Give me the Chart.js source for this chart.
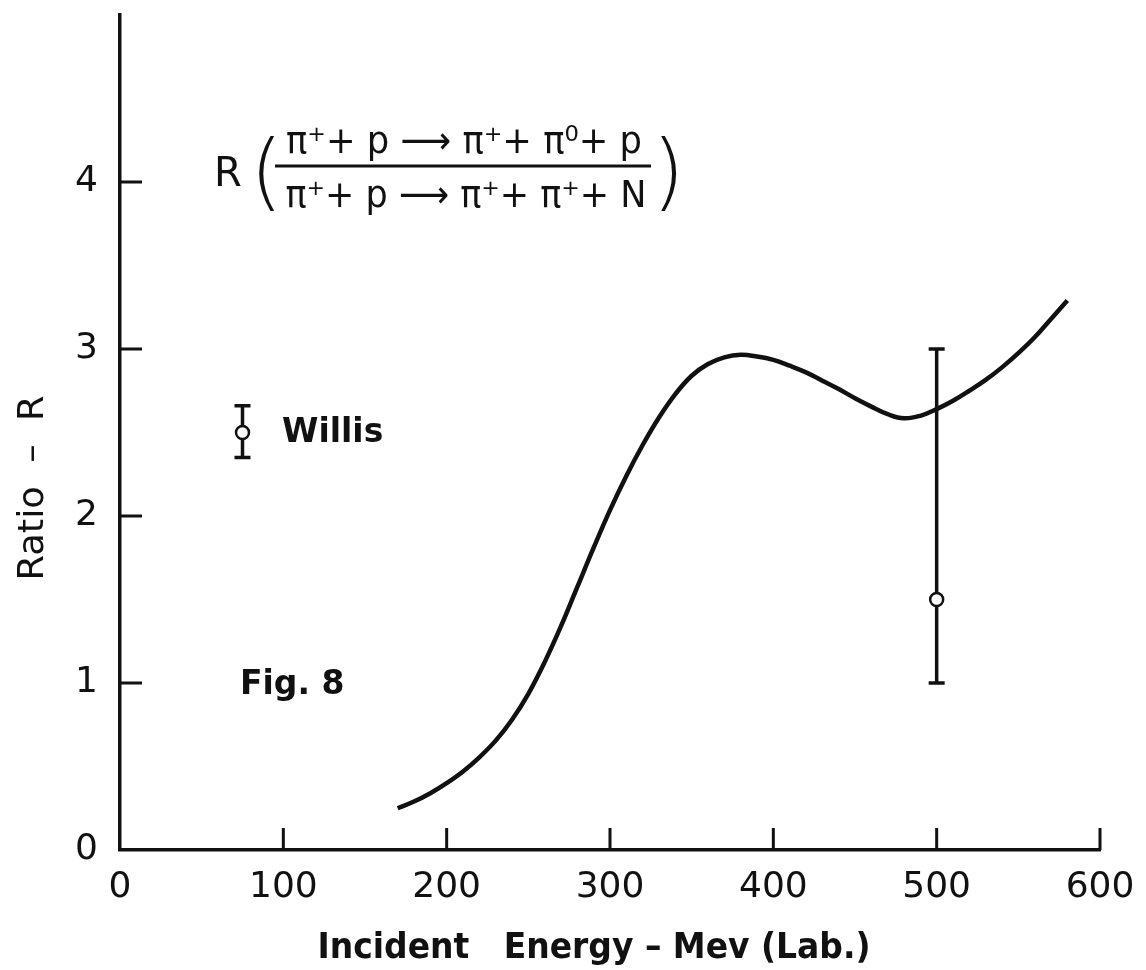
<!DOCTYPE html>
<html>
<head>
<meta charset="utf-8">
<script src="https://cdn.jsdelivr.net/npm/chart.js@4.4.1/dist/chart.umd.min.js"></script>
<style>
  html, body { margin: 0; padding: 0; background: #fff; }
  #wrap { position: relative; width: 1146px; height: 970px; }
</style>
</head>
<body>
<div id="wrap"><canvas id="ratioChart"></canvas></div>
<script>
// curve (Mev, ratio)
const energy = [170, 180, 190, 200, 210, 220, 230, 240, 250, 260, 270, 280, 290, 300, 310, 320, 330, 340, 350, 360, 370, 380, 390, 400, 410, 420, 430, 440, 450, 460, 470, 480, 490, 500, 510, 520, 530, 540, 550, 560, 570, 580];
const ratio = [0.25, 0.29, 0.34, 0.40, 0.47, 0.555, 0.655, 0.78, 0.935, 1.125, 1.34, 1.575, 1.81, 2.035, 2.24, 2.425, 2.59, 2.73, 2.84, 2.91, 2.95, 2.965, 2.955, 2.935, 2.90, 2.86, 2.81, 2.76, 2.705, 2.655, 2.61, 2.585, 2.60, 2.64, 2.69, 2.75, 2.815, 2.89, 2.975, 3.07, 3.18, 3.29];

// measured points with error bars
const pointEnergy = [75, 500];
const pointRatio = [2.5, 1.5];
const errLow = [2.35, 1.0];
const errHigh = [2.66, 3.0];

const xTicks = [0, 100, 200, 300, 400, 500, 600];
const yTicks = [0, 1, 2, 3, 4];

const INK = '#111';
const FONT = 'DejaVu Sans';

function fitText(ctx, text, cx, baseline, width, font) {
  ctx.font = font;
  const w = ctx.measureText(text).width;
  ctx.save();
  ctx.translate(cx, baseline);
  ctx.scale(width / w, 1);
  ctx.textAlign = 'center';
  ctx.textBaseline = 'alphabetic';
  ctx.fillText(text, 0, 0);
  ctx.restore();
}

const errorBars = {
  id: 'errorBars',
  beforeDatasetsDraw(chart) {
    const { ctx, scales: { x, y } } = chart;
    ctx.save();
    ctx.strokeStyle = INK;
    ctx.lineWidth = 3.5;
    pointEnergy.forEach((e, i) => {
      const px = x.getPixelForValue(e);
      const top = y.getPixelForValue(errHigh[i]);
      const bot = y.getPixelForValue(errLow[i]);
      ctx.beginPath();
      ctx.moveTo(px, top); ctx.lineTo(px, bot);
      ctx.moveTo(px - 8, top); ctx.lineTo(px + 8, top);
      ctx.moveTo(px - 8, bot); ctx.lineTo(px + 8, bot);
      ctx.stroke();
    });
    ctx.restore();
  }
};

// ticks point into the plot, plus the lettering
const decorations = {
  id: 'decorations',
  afterDraw(chart) {
    const { ctx, chartArea, scales: { x, y } } = chart;
    ctx.save();
    ctx.strokeStyle = INK;
    ctx.lineWidth = 3;
    ctx.beginPath();
    xTicks.filter(v => v > 0).forEach(v => {
      const px = x.getPixelForValue(v);
      ctx.moveTo(px, chartArea.bottom);
      ctx.lineTo(px, chartArea.bottom - 22);
    });
    yTicks.filter(v => v > 0).forEach(v => {
      const py = y.getPixelForValue(v);
      ctx.moveTo(chartArea.left, py);
      ctx.lineTo(chartArea.left + 22, py);
    });
    ctx.stroke();

    ctx.fillStyle = INK;
    // formula
    ctx.font = `40px "${FONT}"`;
    ctx.textAlign = 'left';
    ctx.textBaseline = 'alphabetic';
    ctx.fillText('R', 214, 186);
    ctx.font = `300 84px "${FONT}"`;
    ctx.fillText('(', 250, 200);
    ctx.fillText(')', 652, 200);
    fitText(ctx, 'π⁺+ p ⟶ π⁺+ π⁰+ p', 464, 153, 356, `38px "${FONT}"`);
    fitText(ctx, 'π⁺+ p ⟶ π⁺+ π⁺+ N', 466, 207, 361, `38px "${FONT}"`);
    ctx.lineWidth = 3;
    ctx.beginPath();
    ctx.moveTo(275, 166);
    ctx.lineTo(651, 166);
    ctx.stroke();

    ctx.textAlign = 'left';
    ctx.font = `bold 33px "${FONT}"`;
    ctx.fillText('Willis', 282, 442);
    ctx.fillText('Fig. 8', 240, 694);

    // axis titles
    fitText(ctx, 'Incident   Energy – Mev (Lab.)', 594, 958, 553, `bold 35px "${FONT}"`);
    ctx.save();
    ctx.translate(43, 488);
    ctx.rotate(-Math.PI / 2);
    fitText(ctx, 'Ratio  –  R', 0, 0, 185, `36px "${FONT}"`);
    ctx.restore();
    ctx.restore();
  }
};

new Chart(document.getElementById('ratioChart'), {
  type: 'scatter',
  data: {
    datasets: [
      {
        type: 'line',
        data: energy.map((e, i) => ({ x: e, y: ratio[i] })),
        borderColor: INK,
        borderWidth: 4.5,
        pointRadius: 0,
        fill: false,
        tension: 0.4
      },
      {
        data: pointEnergy.map((e, i) => ({ x: e, y: pointRatio[i] })),
        pointRadius: 6.5,
        pointBackgroundColor: '#fff',
        pointBorderColor: INK,
        pointBorderWidth: 2.5
      }
    ]
  },
  options: {
    responsive: true,
    maintainAspectRatio: false,
    animation: false,
    devicePixelRatio: 1,
    layout: { padding: { top: 15, right: 46, left: 0, bottom: 0 } },
    plugins: { legend: { display: false }, tooltip: { enabled: false } },
    scales: {
      x: {
        type: 'linear',
        min: 0,
        max: 600,
        afterBuildTicks: (axis) => { axis.ticks = xTicks.map(v => ({ value: v })); },
        afterFit: (axis) => { axis.height = 120; axis.paddingLeft = 0; axis.paddingRight = 0; },
        grid: { display: false },
        border: { color: INK, width: 3.5 },
        ticks: { color: INK, padding: 8, font: { family: FONT, size: 36 }, maxRotation: 0 }
      },
      y: {
        type: 'linear',
        min: 0,
        max: 5,
        afterBuildTicks: (axis) => { axis.ticks = yTicks.map(v => ({ value: v })); },
        afterFit: (axis) => { axis.width = 120; axis.paddingTop = 0; axis.paddingBottom = 0; },
        grid: { display: false },
        border: { color: INK, width: 3.5 },
        ticks: { color: INK, padding: 14, font: { family: FONT, size: 36 } }
      }
    }
  },
  plugins: [errorBars, decorations]
});
</script>
</body>
</html>
